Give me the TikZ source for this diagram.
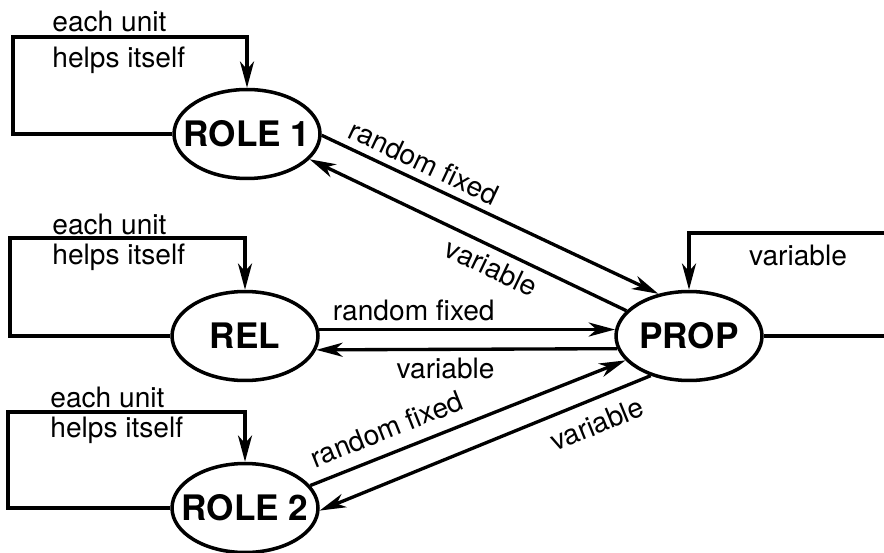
\documentclass[tikz,border=0pt]{standalone}
\usepackage{fontspec}
\setmainfont{TeX Gyre Heros}
\usetikzlibrary{shapes.geometric,arrows.meta}
\newcommand{\unitFont}[0]{\fontsize{20}{24}\selectfont\bfseries}
\newcommand{\flowFont}[0]{\fontsize{16}{19}\selectfont}

\begin{document}
\begin{tikzpicture}[x=0.02cm, y=-0.02cm]
  \tikzset{concept/.style={ellipse, draw, line width=2pt, minimum width=2.92cm,
      minimum height=1.78cm, inner sep=0pt, font=\unitFont},
    lbl/.style={font=\flowFont, inner sep=4pt},
    flow/.style={line width=1.9pt},
    >={Stealth[length=15pt,width=8pt,inset=4.5pt]}}
  \clip (0,0) rectangle (884,553);
  \node[concept] (role1) at (247,134) {\makebox[0pt]{ROLE 1}};
  \node[concept] (rel) at (245,336) {\makebox[0pt]{REL}};
  \node[concept] (role2) at (245,508) {\makebox[0pt]{ROLE 2}};
  \node[concept] (prop) at (689,336) {\makebox[0pt]{PROP}};
  \coordinate (loop1) at (13,37);
  \coordinate (loop2) at (10,238);
  \coordinate (loop3) at (8,412);
  \coordinate (loop4) at (900,233);
  \draw[flow, ->] (role1.west) -| (loop1) -| (role1.north);
  \draw[flow, ->] (rel.west) -| (loop2) -| (rel.north);
  \draw[flow, ->] (role2.west) -| (loop3) -| (role2.north);
  \draw[flow, ->] (prop.east) -| (loop4) -| (prop.north);
  \node[lbl, anchor=west] (each1) at (45,21) {each unit};
  \node[lbl, anchor=west] (helps1) at (45,60) {helps itself};
  \node[lbl, anchor=west] (each2) at (45,224) {each unit};
  \node[lbl, anchor=west] (helps2) at (45,257) {helps itself};
  \node[lbl, anchor=west] (each3) at (43,397) {each unit};
  \node[lbl, anchor=west] (helps3) at (43,430) {helps itself};
  \node[lbl] (var4) at (798,255) {variable};
  \draw[flow, ->] (role1.-1) -- node[lbl, pos=0.28, sloped, above] (rf1) {random fixed} (prop.126);
  \draw[flow, <-] (role1.-22) -- node[lbl, pos=0.6, sloped, below] (var1) {variable} (prop.158);
  \draw[flow, ->] (rel.5) -- node[lbl, pos=0.32, above] (rf2) {random fixed} (prop.175);
  \draw[flow, <-] (rel.-11) -- node[lbl, pos=0.43, below] (var2) {variable} (prop.190);
  \draw[flow, ->] (role2.19) -- node[lbl, pos=0.27, sloped, above=3pt] (rf3) {random fixed} (prop.201);
  \draw[flow, <-] (role2.-2) -- node[lbl, pos=0.81, sloped, below=3pt] (var3) {variable} (prop.226);
\end{tikzpicture}
\end{document}
